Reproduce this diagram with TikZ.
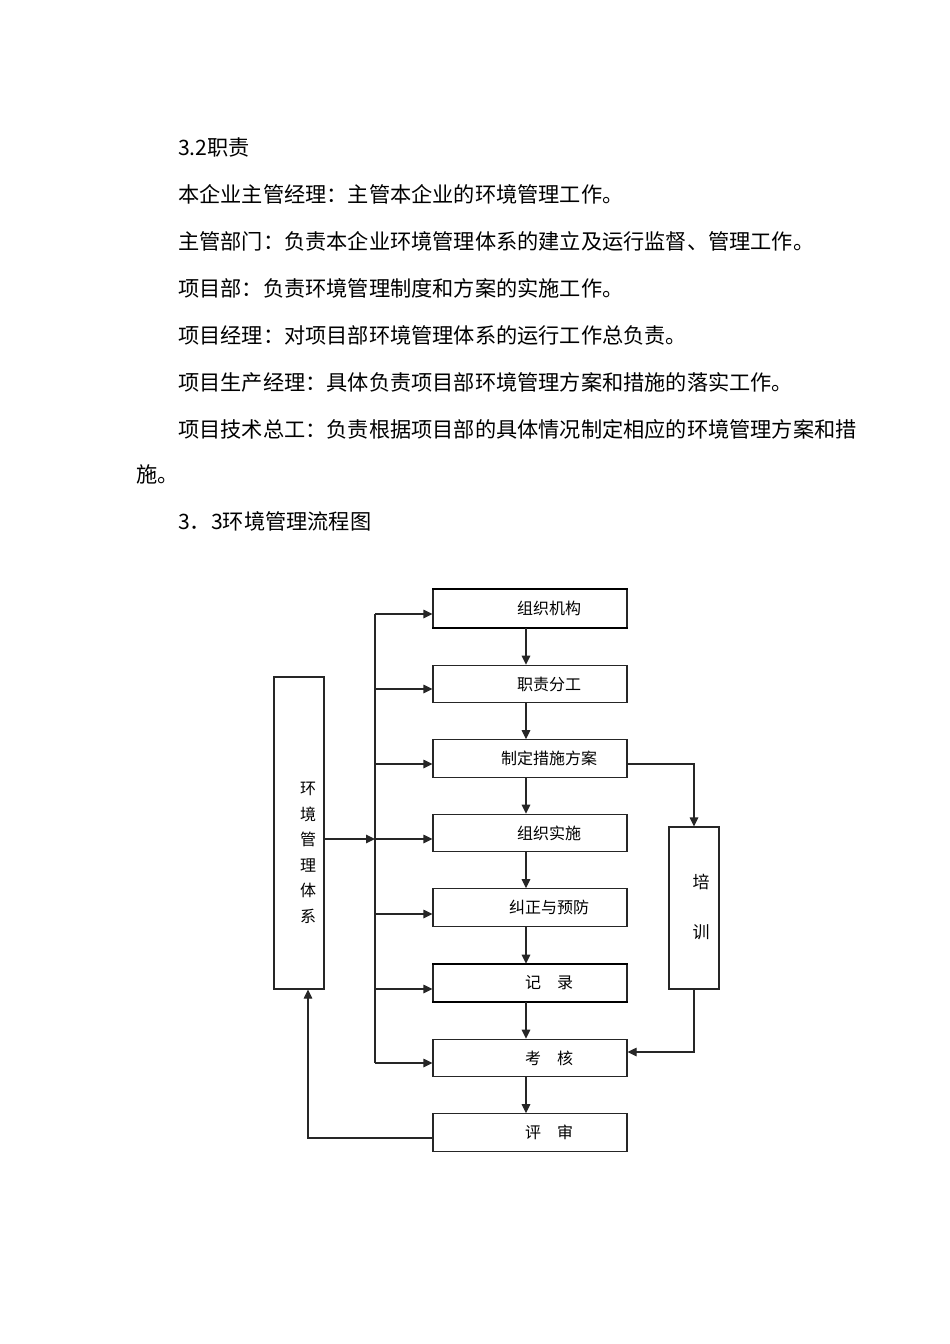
\documentclass[tikz,border=0pt]{standalone}
\usepackage{fontspec}
\setmainfont{Noto Sans CJK SC}
\usetikzlibrary{arrows.meta}
\begin{document}
\begin{tikzpicture}[x=1pt,y=-1pt,
  para/.style={anchor=west,inner sep=0pt,font=\fontsize{21.2}{21.2}\selectfont},
  box/.style={draw=black!85,line width=1.1pt,minimum width=194pt,minimum height=37.5pt,inner sep=0pt,font=\fontsize{16}{16}\selectfont},
  tall/.style={draw=black!85,line width=1.1pt,minimum width=50pt,inner sep=0pt},
  ln/.style={draw=black!85,line width=1.1pt},
  arr/.style={ln,-{Triangle[length=9pt,width=8.5pt]}},
  thk/.style={draw=black,line width=2pt}]
\fill[white] (0,0) rectangle (950,1344);
\path[use as bounding box] (0,0) rectangle (950,1344);

% text
\node[para] (t0) at (178,147) {3.2职责};
\node[para] (t1) at (178,194) {本企业主管经理：主管本企业的环境管理工作。};
\node[para] (t2) at (178,241) {主管部门：负责本企业环境管理体系的建立及运行监督、管理工作。};
\node[para] (t3) at (178,288) {项目部：负责环境管理制度和方案的实施工作。};
\node[para] (t4) at (178,335) {项目经理：对项目部环境管理体系的运行工作总负责。};
\node[para] (t5) at (178,382) {项目生产经理：具体负责项目部环境管理方案和措施的落实工作。};
\node[para] (t6) at (178,429) {项目技术总工：负责根据项目部的具体情况制定相应的环境管理方案和措};
\node[para] (t7) at (136,474) {施。};
\node[para] (t8) at (178,521) {3．3环境管理流程图};

% boxes
\node[box] (b1) at (530,608.5) {\hspace{38pt}组织机构};
\node[box] (b2) at (530,684) {\hspace{38pt}职责分工};
\node[box] (b3) at (530,758.5) {\hspace{38pt}制定措施方案};
\node[box] (b4) at (530,833) {\hspace{38pt}组织实施};
\node[box] (b5) at (530,907.5) {\hspace{38pt}纠正与预防};
\node[box] (b6) at (530,983) {\hspace{38pt}记　录};
\node[box] (b7) at (530,1058) {\hspace{38pt}考　核};
\node[box] (b8) at (530,1132.5) {\hspace{38pt}评　审};

\draw[thk] (b1.north west) -- (b1.north east);
\draw[thk] (b1.south west) -- (b1.south east);
\draw[thk] (b6.north west) -- (b6.north east);
\draw[thk] (b6.south west) -- (b6.south east);

\node[tall,minimum height=312pt] (lb) at (299,833) {};
\node[inner sep=0pt,align=center,font=\fontsize{16}{25.5}\selectfont] (lbt) at (308,853) {环\\境\\管\\理\\体\\系};
\node[tall,minimum height=162pt] (tb) at (694,908) {};
\node[inner sep=0pt,align=center,font=\fontsize{17}{50}\selectfont] (tbt) at (701,907) {培\\训};

% vertical arrows between boxes
\foreach \a/\b in {b1/b2,b2/b3,b3/b4,b4/b5,b5/b6,b6/b7,b7/b8}
  \draw[arr] ([xshift=-4pt]\a.south) -- ([xshift=-4pt]\b.north);

% bus
\coordinate (r1) at (375,614);
\coordinate (r2) at (375,689);
\coordinate (r3) at (375,764);
\coordinate (r4) at (375,839);
\coordinate (r5) at (375,914);
\coordinate (r6) at (375,989);
\coordinate (r7) at (375,1063);
\draw[ln] (r1) -- (r7);
\foreach \i in {1,...,7}
  \draw[arr] (r\i) -- (r\i -| b1.west);
\draw[arr] (lb.east |- r4) -- (r4);

% training
\draw[arr] (r3 -| b3.east) -| (tb.north);
\draw[arr] (tb.south) |- ([yshift=6pt]b7.east);

% review back
\draw[arr] ([yshift=-5.5pt]b8.west) -| ([xshift=9pt]lb.south);
\end{tikzpicture}
\end{document}
